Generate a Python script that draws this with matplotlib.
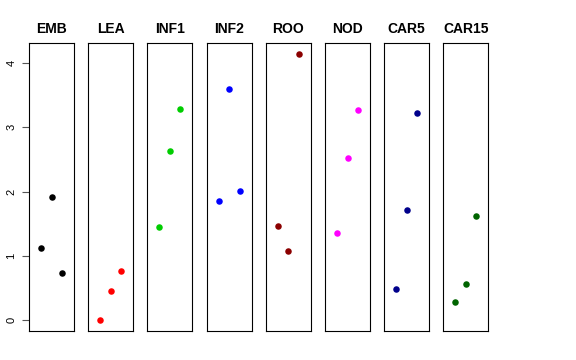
import matplotlib.pyplot as plt

plt.rcParams['font.family'] = ['Liberation Sans', 'DejaVu Sans']

# groups and their three values each (plotted at x = 1, 2, 3)
groups = ["EMB", "LEA", "INF1", "INF2", "ROO", "NOD", "CAR5", "CAR15"]
colours = ["black", "#FF0000", "#00CD00", "#0000FF", "#8B0000", "#FF00FF", "#00008B", "#006400"]
x_pos = [1, 2, 3]
emb = [1.12, 1.91, 0.74]
lea = [0.00, 0.45, 0.77]
inf1 = [1.45, 2.63, 3.28]
inf2 = [1.86, 3.60, 2.01]
roo = [1.46, 1.07, 4.14]
nod = [1.35, 2.52, 3.27]
car5 = [0.48, 1.71, 3.22]
car15 = [0.28, 0.57, 1.62]
values = [emb, lea, inf1, inf2, roo, nod, car5, car15]
y_ticks = [0, 1, 2, 3, 4]

W, H = 576, 360
fig = plt.figure(figsize=(W / 100, H / 100), dpi=100)

left0 = 29
step = 59.2
width = 45
bottom = H - 331
height = 288

for i, g in enumerate(groups):
    ax = fig.add_axes([(left0 + i * step) / W, bottom / H, width / W, height / H])
    ax.scatter(x_pos, values[i], s=22, color=colours[i], linewidths=0, zorder=3)
    ax.set_xlim(-0.16, 4.16)
    ax.set_ylim(-0.166, 4.31)
    ax.set_xticks([])
    ax.set_title(g, fontsize=10, fontweight='bold', pad=7)
    for s in ax.spines.values():
        s.set_linewidth(0.8)
    if i == 0:
        ax.set_yticks(y_ticks)
        ax.set_yticklabels([str(t) for t in y_ticks], rotation=90, va='center')
        ax.tick_params(axis='y', length=5, width=0.8, labelsize=8, pad=4, color='#555555')
    else:
        ax.set_yticks([])

fig.savefig("out.png", dpi=100)
